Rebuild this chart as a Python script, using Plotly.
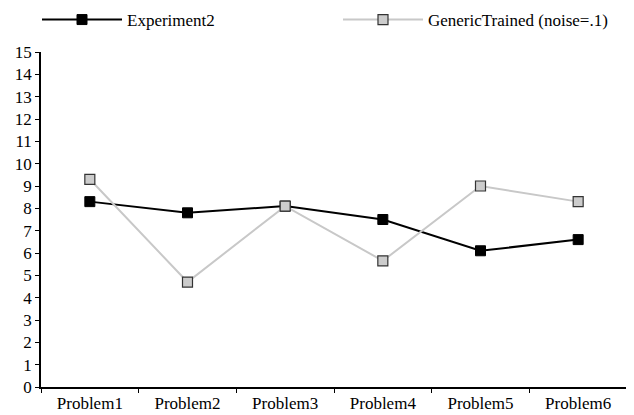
import plotly.graph_objects as go

categories = ["Problem1", "Problem2", "Problem3", "Problem4", "Problem5", "Problem6"]
experiment2 = [8.3, 7.8, 8.1, 7.5, 6.1, 6.6]
generic_trained = [9.3, 4.7, 8.1, 5.65, 9.0, 8.3]
y_ticks = list(range(0, 16))

FAMILY = "Liberation Serif, Times New Roman, Times, serif"
font = dict(family=FAMILY, size=17, color="#000")

W, H = 626, 407

fig = go.Figure()
fig.add_trace(go.Scatter(
    x=categories, y=experiment2, name="Experiment2", mode="lines+markers",
    line=dict(color="#000000", width=2),
    marker=dict(symbol="square", size=10, color="#000000", line=dict(color="#000000", width=1)),
    legend="legend",
))
fig.add_trace(go.Scatter(
    x=categories, y=generic_trained, name="GenericTrained (noise=.1)", mode="lines+markers",
    line=dict(color="#c8c8c8", width=2),
    marker=dict(symbol="square", size=10, color="#cccccc", line=dict(color="#333333", width=1.2)),
    legend="legend2",
))

legend_common = dict(orientation="h", xref="container", yref="container",
                     xanchor="left", yanchor="middle", y=1 - 12 / H,
                     font=font, bgcolor="rgba(0,0,0,0)", itemwidth=80,
                     borderwidth=0)

fig.update_layout(
    width=W, height=H,
    margin=dict(l=33, r=7, t=44, b=28, autoexpand=False),
    paper_bgcolor="white", plot_bgcolor="white",
    font=font,
    showlegend=True,
    legend=dict(legend_common, x=29 / W),
    legend2=dict(legend_common, x=330 / W),
    # overlay axes used only for the inner halves of the crossing tick marks
    xaxis2=dict(overlaying="x", range=[0, 6], tickvals=list(range(7)), showticklabels=False,
                ticks="inside", ticklen=4, tickcolor="#000", tickwidth=1,
                showline=False, showgrid=False, zeroline=False, side="bottom"),
    yaxis2=dict(overlaying="y", range=[0, 15], tickvals=y_ticks, showticklabels=False,
                ticks="inside", ticklen=4, tickcolor="#000", tickwidth=1,
                showline=False, showgrid=False, zeroline=False, side="left"),
)
fig.update_xaxes(
    selector=dict(anchor="y"),
)
fig.update_layout(xaxis=dict(
    type="category", range=[-0.5, 5.5], tickson="boundaries",
    showline=True, linecolor="#000", linewidth=1.5,
    ticks="outside", ticklen=4, tickcolor="#000", tickwidth=1,
    showgrid=False, zeroline=False, tickfont=font,
))
fig.update_layout(yaxis=dict(
    range=[0, 15], tickvals=y_ticks, ticktext=[str(v) for v in y_ticks],
    showline=True, linecolor="#000", linewidth=1.5,
    ticks="outside", ticklen=4, tickcolor="#000", tickwidth=1,
    showgrid=False, zeroline=False, tickfont=font,
))

fig.write_html("out.html")
